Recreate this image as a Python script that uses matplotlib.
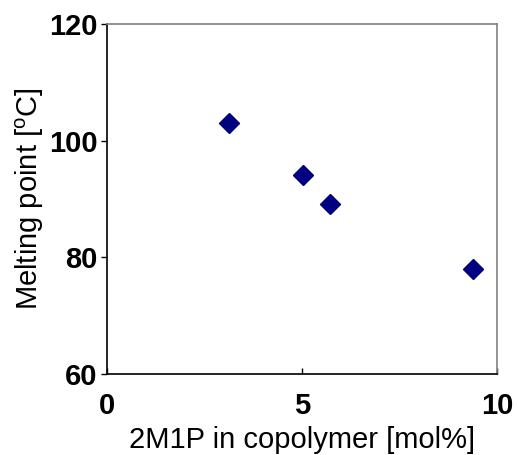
import matplotlib
matplotlib.use("Agg")
import matplotlib.pyplot as plt

# 2M1P content vs melting point
mol_pct = [3.13, 5.03, 5.73, 9.38]
melt_pt = [103.0, 94.1, 89.1, 78.0]
xticks = [0, 5, 10]
yticks = [60, 80, 100, 120]

plt.rcParams['font.family'] = ['Liberation Sans', 'DejaVu Sans']
plt.rcParams['mathtext.fontset'] = 'custom'
plt.rcParams['mathtext.rm'] = 'Liberation Sans'

fig = plt.figure(figsize=(5.18, 4.55), dpi=100)
ax = fig.add_axes([107/518, 1-374/455, 390/518, 350/455])

ax.plot(mol_pct, melt_pt, linestyle='none', marker='D', markersize=10.5,
        color='#000080', markeredgecolor='#000080')

ax.set_xlim(0, 10)
ax.set_ylim(60, 120)
ax.set_xticks(xticks)
ax.set_yticks(yticks)
ax.tick_params(axis='x', direction='in', length=4, width=1, pad=13, labelsize=21)
ax.tick_params(axis='y', direction='out', length=4, width=1, pad=3, labelsize=21)
for lab in ax.get_xticklabels() + ax.get_yticklabels():
    lab.set_fontweight('bold')

ax.spines['left'].set_color('black')
ax.spines['bottom'].set_color('black')
ax.spines['top'].set_color('#808080')
ax.spines['right'].set_color('#808080')
for s in ax.spines.values():
    s.set_linewidth(1.2)

ax.set_xlabel('2M1P in copolymer [mol%]', fontsize=21, labelpad=4)
ax.set_ylabel('Melting point [$^\\mathregular{o}$C]', fontsize=21, labelpad=2)

fig.savefig('out.png', dpi=100)
